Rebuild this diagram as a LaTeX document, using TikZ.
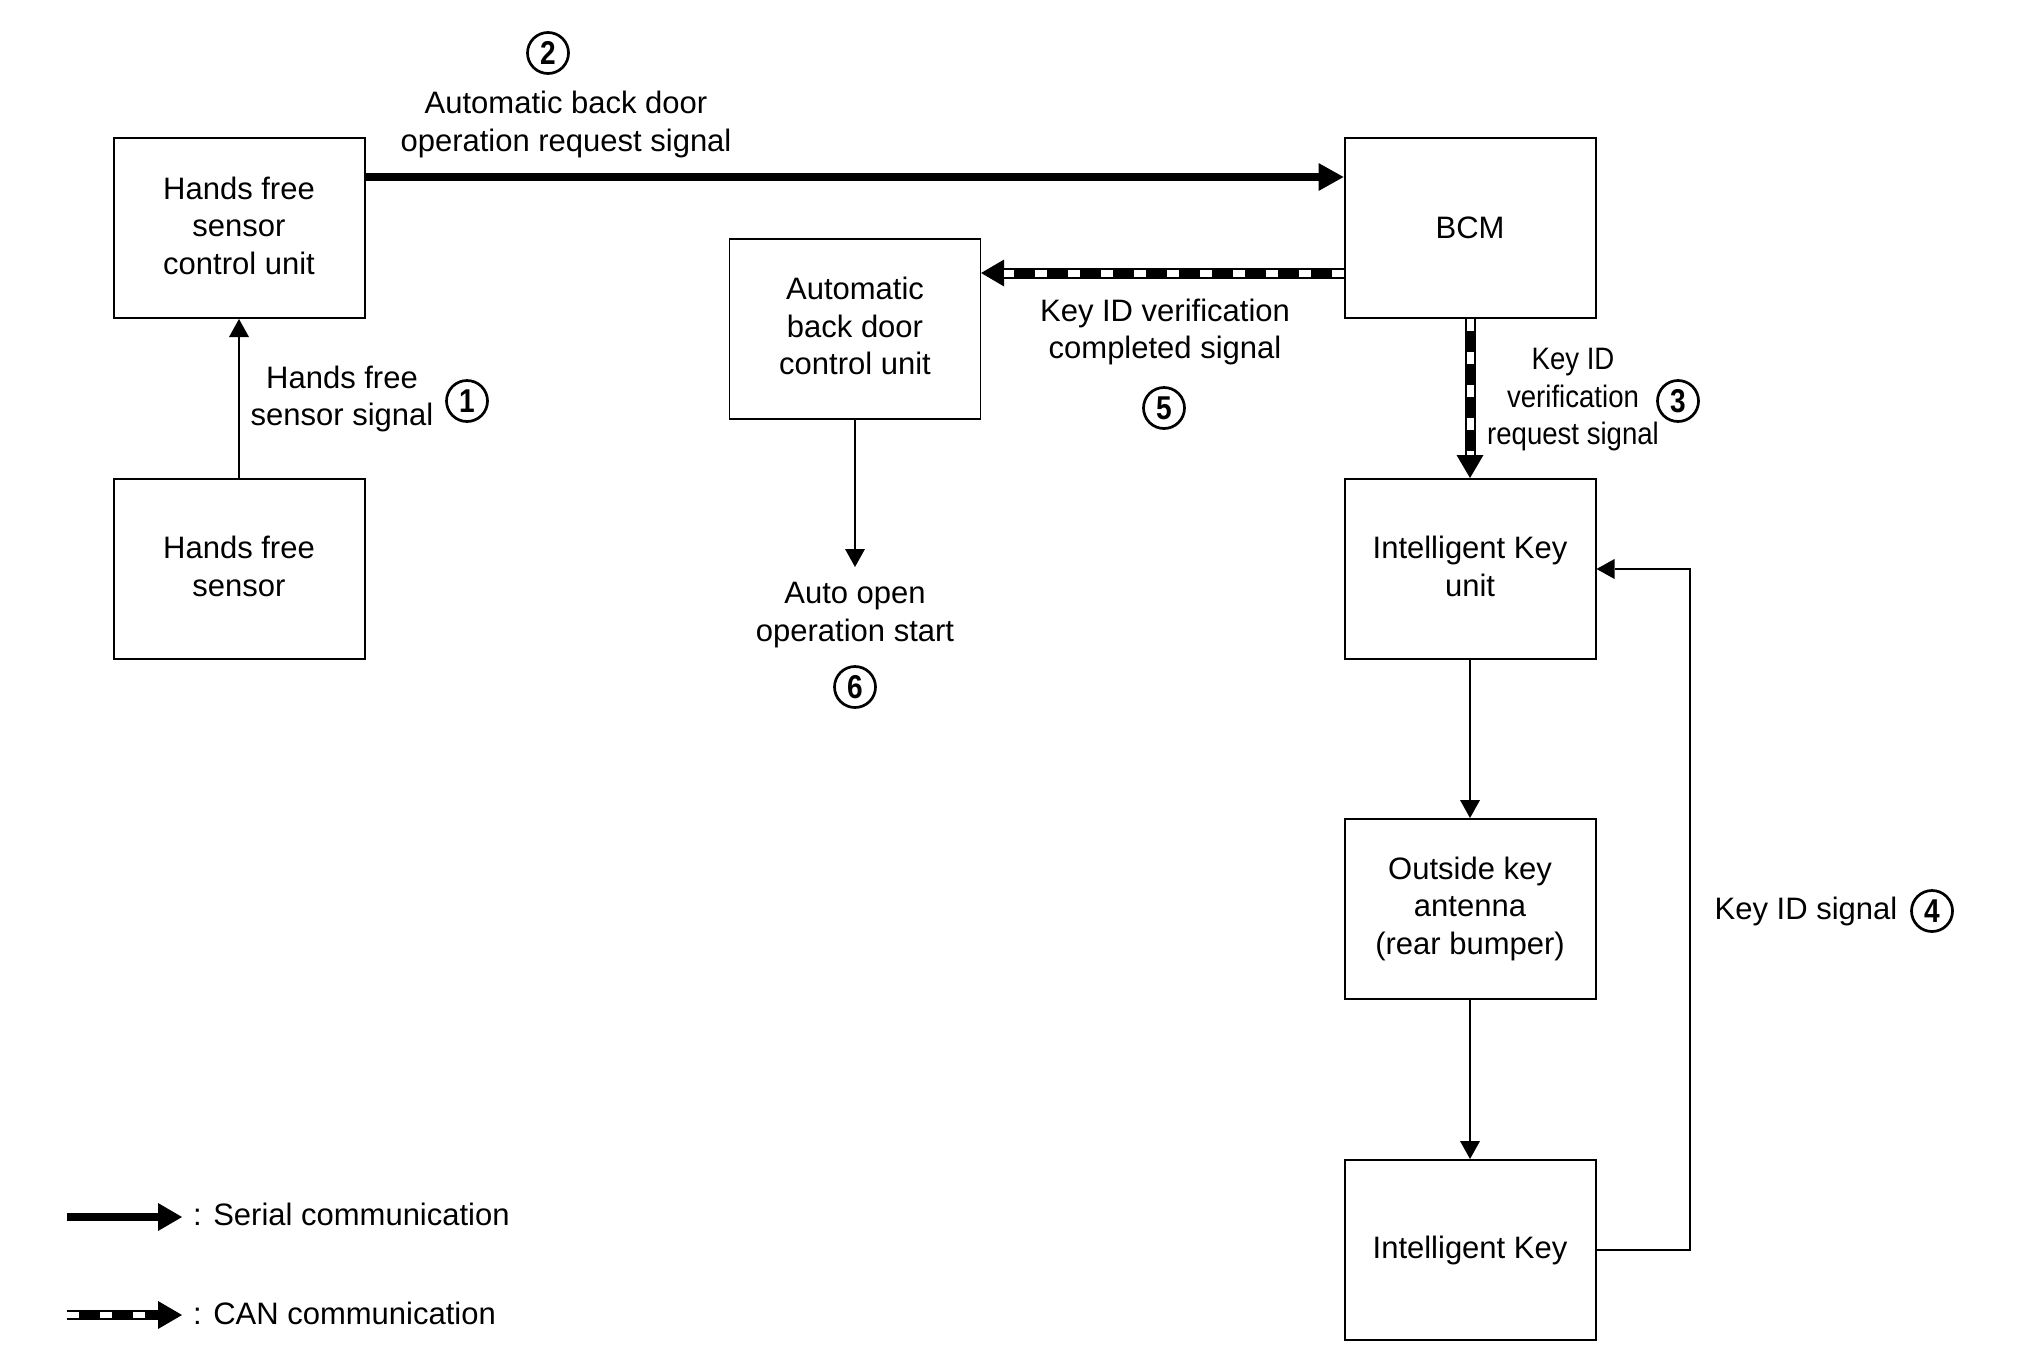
\documentclass[tikz,border=0pt]{standalone}
\usepackage{fontspec}
\setmainfont{Liberation Sans}
\usetikzlibrary{arrows.meta}
\newcommand\diagfont{\fontsize{31}{37.5}\selectfont}
\newcommand\numfont{\fontsize{33}{34}\selectfont\bfseries}
\newcommand\cnd[1]{\scalebox{0.89}[1]{#1}}
\newcommand\dig[1]{\scalebox{0.85}[1]{#1}}
\begin{document}
\begin{tikzpicture}[x=1pt,y=-1pt,
  box/.style={draw, line width=2pt, minimum width=251pt, minimum height=180pt, inner sep=0pt},
  lbl/.style={align=center, font=\diagfont, inner sep=0pt},
  num/.style={circle, draw, line width=2.7pt, minimum size=41pt, inner sep=0pt, font=\numfont},
  serialarrow/.style={line width=7.5pt, -{Triangle[length=25pt,width=28pt,line width=0pt]}},
  canblack/.style={line width=11pt, -{Triangle[length=23pt,width=27pt,line width=0pt]}},
  canwhite/.style={line width=7pt, white, dash pattern=on 12pt off 21pt},
  thinarrow/.style={line width=2pt, -{Triangle[length=18pt,width=20pt,line width=0pt]}}]
\useasboundingbox (0,0) rectangle (2020,1371);
% boxes
\node[box] (hfscu) at (239,228) {};
\node[box] (hfs) at (239,569) {};
\node[box, line width=1.2pt] (abd) at (855,329) {};
\node[box] (bcm) at (1470,228) {};
\node[box] (iku) at (1470,569) {};
\node[box] (oka) at (1470,909) {};
\node[box] (ik) at (1470,1250) {};
% box texts
\node[lbl] (hfscut) at ([yshift=2.5pt]hfscu.center) {Hands free\\sensor\\control unit};
\node[lbl] (hfst) at ([yshift=2.5pt]hfs.center) {Hands free\\sensor};
\node[lbl] (abdt) at ([yshift=3pt]abd.center) {Automatic\\back door\\control unit};
\node[lbl] (bcmt) at (bcm.center) {BCM};
\node[lbl] (ikut) at ([yshift=2.5pt]iku.center) {Intelligent Key\\unit};
\node[lbl] (okat) at ([yshift=0.5pt]oka.center) {Outside key\\antenna\\(rear bumper)};
\node[lbl] (ikt) at (ik.center) {Intelligent Key};
% labels
\node[num] (n2) at (548,53) {\dig{2}};
\node[lbl] (l2) at (566,124.5) {Automatic back door\\operation request signal};
\node[lbl] (l1) at (342,399) {Hands free\\sensor signal};
\node[num] (n1) at (467,401) {\dig{1}};
\node[lbl] (l6) at (855,615) {Auto open\\operation start};
\node[num] (n6) at (855,687) {\dig{6}};
\node[lbl] (l5) at (1165,332) {Key ID verification\\completed signal};
\node[num] (n5) at (1164,408) {\dig{5}};
\node[lbl] (l3) at (1573,400) {\cnd{Key ID}\\\cnd{verification}\\\cnd{request signal}};
\node[num] (n3) at (1678,401) {\dig{3}};
\node[lbl] (l4) at (1806,911) {Key ID signal};
\node[num] (n4) at (1932,911) {\dig{4}};
% helper coordinates
\coordinate (sy) at (0,177);
\coordinate (cy) at (0,273);
\coordinate (fbx) at (1690,0);
\coordinate (ao) at (855,567);
\coordinate (c5a) at (bcm.west |- cy);
\coordinate (c5b) at (abd.east |- cy);
% connectors
\draw[thinarrow] (hfs.north) -- (hfscu.south);
\draw[serialarrow] (hfscu.east |- sy) -- (bcm.west |- sy);
\draw[canblack] (c5a) -- (c5b);
\draw[canwhite] (c5a) -- ([xshift=23pt]c5b);
\draw[canblack] (bcm.south) -- (iku.north);
\draw[canwhite] (bcm.south) -- ([yshift=23pt]iku.north);
\draw[line width=1.2pt, -{Triangle[length=18pt,width=20pt,line width=0pt]}] (abd.south) -- (ao);
\draw[thinarrow] (iku.south) -- (oka.north);
\draw[thinarrow] (oka.south) -- (ik.north);
\draw[thinarrow] (ik.east) -- (ik.east -| fbx) -- (iku.east -| fbx) -- (iku.east);
% legend
\coordinate (s1) at (67,1217);
\coordinate (s2) at (182,1217);
\coordinate (c1) at (67,1315);
\coordinate (c2) at (182,1315);
\draw[serialarrow, -{Triangle[length=24pt,width=28pt,line width=0pt]}] (s1) -- (s2);
\draw[canblack, line width=10pt, -{Triangle[length=24pt,width=28pt,line width=0pt]}] (c1) -- (c2);
\draw[canwhite, line width=6pt] (c1) -- ([xshift=-24pt]c2);
\node[lbl, anchor=west] (ls) at (193,1214) {: Serial communication};
\node[lbl, anchor=west] (lc) at (193,1313) {: CAN communication};
\end{tikzpicture}
\end{document}
